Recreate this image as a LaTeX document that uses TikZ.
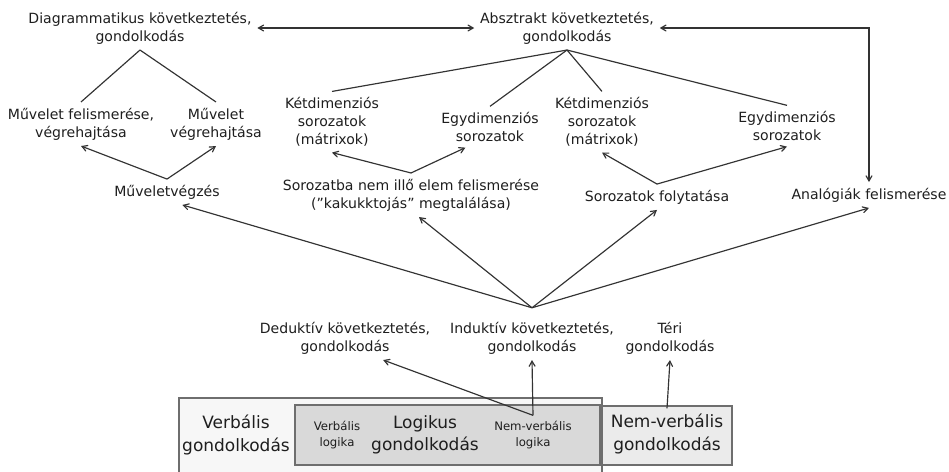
\documentclass[tikz,border=0pt]{standalone}
\usepackage{fontspec}
\setmainfont{DejaVu Sans}
\usetikzlibrary{arrows}
\usetikzlibrary{backgrounds}

\definecolor{txtgray}{HTML}{1E1E1E}
\definecolor{lngray}{HTML}{333333}
\definecolor{boxline}{HTML}{6E6E6E}
\definecolor{logfill}{HTML}{D9D9D9}
\definecolor{nvfill}{HTML}{EBEBEB}
\definecolor{vfill}{HTML}{F7F7F7}

\begin{document}
\begin{tikzpicture}[x=0.03cm,y=-0.03cm,>=angle 60,line width=1pt,
        lbl/.style={align=center,text=txtgray,inner sep=3pt,outer sep=2pt,
                    font=\fontsize{12}{15.5}\selectfont},
        biglbl/.style={lbl,font=\fontsize{14.5}{19}\selectfont},
        smalllbl/.style={lbl,font=\fontsize{10}{13.5}\selectfont},
        conn/.style={draw=lngray},
        frame/.style={draw=boxline,line width=0.9pt}]

        \useasboundingbox (0,0) rectangle (949,471);

        % boxes at the bottom
        \filldraw [frame,fill=vfill]   (179,398) rectangle (602,485);
        \filldraw [frame,fill=logfill] (295,405) rectangle (600,465);
        \filldraw [frame,fill=nvfill]  (602,406) rectangle (732,465);

        % top row
        \node [lbl] (diag) at (140,28)  {Diagrammatikus következtetés,\\gondolkodás};
        \node [lbl] (absz) at (567,28)  {Absztrakt következtetés,\\gondolkodás};

        % second row
        \node [lbl] (muvf) at (81,124)  {Művelet felismerése,\\végrehajtása};
        \node [lbl] (muvv) at (216,124) {Művelet\\végrehajtása};
        \node [lbl] (ket1) at (332,122) {Kétdimenziós\\sorozatok\\(mátrixok)};
        \node [lbl] (egy1) at (490,127) {Egydimenziós\\sorozatok};
        \node [lbl] (ket2) at (602,122) {Kétdimenziós\\sorozatok\\(mátrixok)};
        \node [lbl] (egy2) at (787,126) {Egydimenziós\\sorozatok};

        % third row
        \node [lbl] (muv)   at (167,192) {Műveletvégzés};
        \node [lbl] (soroz) at (411,195) {Sorozatba nem illő elem felismerése\\(”kakukktojás” megtalálása)};
        \node [lbl] (sorf)  at (657,197) {Sorozatok folytatása};
        \node [lbl] (anal)  at (869,195) {Analógiák felismerése};

        % fourth row
        \node [lbl] (ded)  at (345,338) {Deduktív következtetés,\\gondolkodás};
        \node [lbl] (ind)  at (532,338) {Induktív következtetés,\\gondolkodás};
        \node [lbl] (teri) at (670,338) {Téri\\gondolkodás};

        % box labels
        \node [biglbl]   (verb) at (236,435) {Verbális\\gondolkodás};
        \node [smalllbl] (vl)   at (337,435) {Verbális\\logika};
        \node [biglbl]   (log)  at (425,435) {Logikus\\gondolkodás};
        \node [smalllbl] (nvl)  at (533,435) {Nem-verbális\\logika};
        \node [biglbl]   (nvg)  at (667,434) {Nem-verbális\\gondolkodás};

        \path [conn]
          (diag) edge[<->] (absz)
          (diag.south) edge (muvf.north)
          (diag.south) edge (muvv.north)
          (muv.north) edge[->] (muvf.south)
          (muv.north) edge[->] (muvv.south)
          (absz.south) edge (ket1.north)
          (absz.south) edge (egy1.north)
          (absz.south) edge (ket2.north)
          (absz.south) edge (egy2.north)
          (soroz.north) edge[->] (ket1.south)
          (soroz.north) edge[->] (egy1.220)
          (sorf.north) edge[->] (ket2.south)
          (sorf.north) edge[->] (egy2.south)
          ([yshift=7pt]ind.north) edge[->] (muv.-40)
          ([yshift=7pt]ind.north) edge[->] (soroz.-70)
          ([yshift=7pt]ind.north) edge[->] (sorf.south)
          ([yshift=7pt]ind.north) edge[->] (anal.south)
          (nvl.north) edge[->] (ind.south)
          (nvl.north) edge[->] (ded.-30)
          (nvg.north) edge[->] (teri.south)
        ;
        \draw [conn,<->] (absz.east) -| (anal.north);
      \end{tikzpicture}
\end{document}
